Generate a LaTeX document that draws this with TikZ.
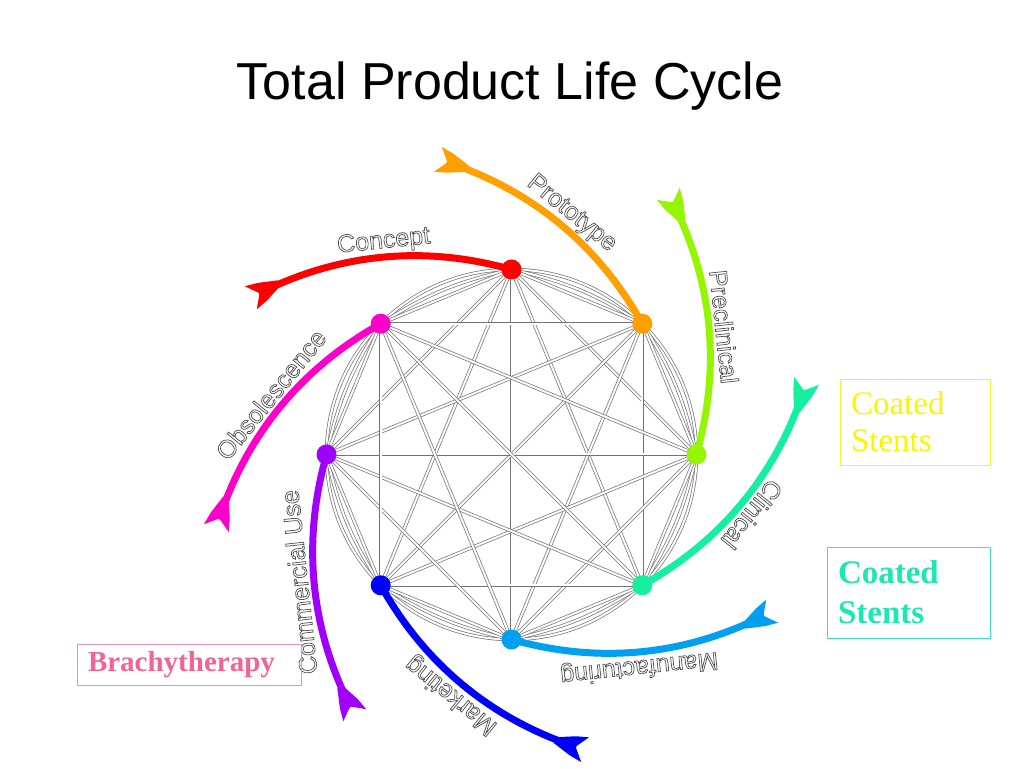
\documentclass[tikz,border=0pt]{standalone}
\usepackage{fontspec}
\setmainfont{Liberation Serif}
\setsansfont{Liberation Sans}
\usetikzlibrary{arrows.meta}
\newcommand{\outlinetext}[1]{\special{pdf:literal direct 0.3 0.3 0.3 RG 0.7 w 2 Tr}#1\special{pdf:literal direct 0 Tr}}
\pgfdeclarearrow{
  name = Fletch,
  cache = false,
  setup code = {
    \pgfarrowssettipend{0pt}
    \pgfarrowssetbackend{-32pt}
    \pgfarrowssetvisualbackend{-32pt}
    \pgfarrowssetlineend{-20pt}
    \pgfarrowshullpoint{0pt}{13pt}
    \pgfarrowshullpoint{0pt}{-13pt}
    \pgfarrowshullpoint{-32pt}{0pt}
  },
  drawing code = {
    \pgfsetfillcolor{pgfstrokecolor}
    \pgfpathmoveto{\pgfqpoint{0pt}{13pt}}
    \pgfpathlineto{\pgfqpoint{-10pt}{0pt}}
    \pgfpathlineto{\pgfqpoint{0pt}{-13pt}}
    \pgfpathlineto{\pgfqpoint{-13pt}{-10pt}}
    \pgfpathlineto{\pgfqpoint{-32pt}{-3pt}}
    \pgfpathlineto{\pgfqpoint{-32pt}{3pt}}
    \pgfpathlineto{\pgfqpoint{-13pt}{10pt}}
    \pgfpathclose
    \pgfusepathqfill
  }
}
\definecolor{cRed}{RGB}{255,0,0}
\definecolor{cOrange}{RGB}{255,160,0}
\definecolor{cYG}{RGB}{150,245,0}
\definecolor{cTeal}{RGB}{20,240,160}
\definecolor{cSky}{RGB}{0,160,240}
\definecolor{cBlue}{RGB}{0,0,250}
\definecolor{cPurple}{RGB}{160,0,250}
\definecolor{cMag}{RGB}{250,0,200}
\definecolor{yText}{RGB}{250,245,0}
\definecolor{yLine}{RGB}{245,240,60}
\definecolor{tText}{RGB}{30,230,180}
\definecolor{tLine}{RGB}{60,225,200}
\definecolor{pText}{RGB}{240,100,150}
\definecolor{pLine}{RGB}{240,140,190}
\begin{document}
\begin{tikzpicture}[x=1pt,y=1pt,
  wire/.style={draw=black!55, line width=0.7pt, double=white, double distance=2pt},
  arm/.style={line width=7pt, -{Fletch}},
  dot/.style={circle, inner sep=0pt, minimum size=20pt},
  stage/.style={font=\sffamily\fontsize{25}{28}\selectfont, inner sep=0pt, text=white},
  box/.style={draw, line width=0.8pt, align=left, inner xsep=11pt, inner ysep=0pt}]
\useasboundingbox[fill=white] (0,0) rectangle (1024,768);
\node[font=\sffamily\fontsize{52}{60}\selectfont, anchor=base] (title) at (510,668) {Total Product Life Cycle};
\begin{scope}[shift={(511.5,313.5)}]
  \foreach \a [count=\i from 0] in {90,45,0,-45,-90,-135,180,135}
    \coordinate (p\i) at (\a:185);
  \draw[wire] (0,0) circle (185);
  \foreach \i [evaluate=\i as \j using {int(mod(\i+1,8))}] in {0,...,7}
    \draw[wire] (p\i) to[bend left=10] (p\j);
  \foreach \i in {0,...,7}{
    \foreach \j in {0,...,7}{
      \ifnum\i<\j \draw[wire] (p\i) -- (p\j); \fi
    }
  }
  \foreach \a/\c/\lab [count=\i from 0] in {90/cRed/Concept, 45/cOrange/Prototype, 0/cYG/Preclinical, -45/cTeal/Clinical, -90/cSky/Manufacturing, -135/cBlue/Marketing, 180/cPurple/Commercial Use, 135/cMag/Obsolescence}{
    \draw[arm, draw=\c] plot[domain=0:59, samples=40] ({\a+\x}:{185+0.9*\x+0.019*\x*\x});
    \node[dot, fill=\c] (d\i) at (p\i) {};
    \node[stage, rotate={\a-84}] (l\i) at ({\a+31}:248) {\outlinetext{\lab}};
  }
\end{scope}
\node[box, draw=yLine, text=yText, font=\rmfamily\fontsize{33}{37}\selectfont, minimum width=150pt, minimum height=86pt, text width=128pt] (ys) at (915,346) {Coated\\Stents};
\node[box, draw=tLine, text=tText, font=\rmfamily\bfseries\fontsize{33}{40}\selectfont, minimum width=163pt, minimum height=91pt, text width=141pt] (ts) at (908.5,175.5) {Coated\\Stents};
\node[box, draw=pLine, text=pText, font=\rmfamily\bfseries\fontsize{29}{33}\selectfont, minimum width=224pt, minimum height=41pt, text width=202pt] (br) at (189,103.5) {Brachytherapy};
\end{tikzpicture}
\end{document}
